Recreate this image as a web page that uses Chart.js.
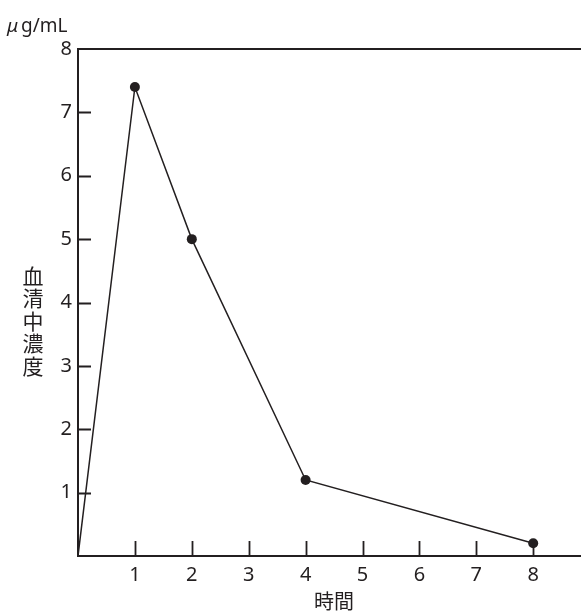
<!DOCTYPE html>
<html>
<head>
<meta charset="utf-8">
<script src="https://cdn.jsdelivr.net/npm/chart.js@4/dist/chart.umd.min.js"></script>
<style>
    html, body { margin: 0; padding: 0; background: #fff; }
    canvas { display: block; }
</style>
</head>
<body>
<canvas id="concChart" width="581" height="612"></canvas>
<script>
// Data
const hours = [0, 1, 2, 4, 8];
const concentration = [0, 7.4, 5.0, 1.2, 0.2];
const xTickValues = [1, 2, 3, 4, 5, 6, 7, 8];
const yTickValues = [1, 2, 3, 4, 5, 6, 7, 8];

const ink = '#231f20';
const latinFont = '"Noto Sans", "Open Sans", sans-serif';
const cjkFont = '"Noto Sans CJK JP", "Noto Sans", sans-serif';

// Inner tick marks and the free text labels
const decorations = {
    id: 'decorations',
    afterDraw(chart) {
        const { ctx, chartArea, scales } = chart;
        ctx.save();
        ctx.strokeStyle = ink;
        ctx.lineWidth = 1.8;
        ctx.beginPath();
        xTickValues.forEach(v => {
            const px = Math.round(scales.x.getPixelForValue(v)) + 0.5;
            ctx.moveTo(px, chartArea.bottom);
            ctx.lineTo(px, chartArea.bottom - 15);
        });
        yTickValues.slice(0, -1).forEach(v => {
            const py = Math.round(scales.y.getPixelForValue(v)) + 0.5;
            ctx.moveTo(chartArea.left, py);
            ctx.lineTo(chartArea.left + 13, py);
        });
        ctx.stroke();

        ctx.fillStyle = ink;

        // unit
        ctx.textAlign = 'left';
        ctx.textBaseline = 'alphabetic';
        ctx.font = 'italic 19px ' + latinFont;
        ctx.fillText('\u03bc', 7, 32);
        ctx.font = '19px ' + latinFont;
        ctx.fillText('g/mL', 21, 32);

        // x title
        ctx.textBaseline = 'middle';
        ctx.textAlign = 'center';
        ctx.font = '20px ' + cjkFont;
        ctx.fillText('時間', 334, 601);

        // vertical y title
        const yTitle = '血清中濃度';
        ctx.font = '21px ' + cjkFont;
        for (let i = 0; i < yTitle.length; i++) {
            ctx.fillText(yTitle[i], 33, 276 + i * 22.5);
        }
        ctx.restore();
    }
};

document.addEventListener('DOMContentLoaded', () => {
    const canvas = document.getElementById('concChart');
    new Chart(canvas, {
        type: 'line',
        data: {
            datasets: [{
                data: hours.map((h, i) => ({ x: h, y: concentration[i] })),
                borderColor: ink,
                borderWidth: 1.5,
                backgroundColor: ink,
                pointRadius: hours.map(h => h === 0 ? 0 : 5),
                pointBorderWidth: 0,
                tension: 0
            }]
        },
        options: {
            responsive: false,
            animation: false,
            layout: { autoPadding: false, padding: { top: 49, right: 0, left: 0, bottom: 0 } },
            plugins: {
                legend: { display: false },
                tooltip: { enabled: false }
            },
            scales: {
                x: {
                    type: 'linear',
                    min: 0,
                    max: 8.84,
                    afterBuildTicks: scale => {
                        scale.ticks = xTickValues.map(v => ({ value: v }));
                    },
                    afterFit: scale => { scale.height = 56; },
                    border: { display: true, color: ink, width: 2 },
                    grid: { display: false, drawTicks: false },
                    ticks: {
                        color: ink,
                        padding: 7,
                        font: { family: latinFont, size: 20 }
                    }
                },
                y: {
                    min: 0,
                    max: 8,
                    afterBuildTicks: scale => {
                        scale.ticks = yTickValues.map(v => ({ value: v }));
                    },
                    afterFit: scale => { scale.width = 78; },
                    border: { display: true, color: ink, width: 2 },
                    grid: {
                        drawTicks: false,
                        lineWidth: 2,
                        color: c => c.tick && c.tick.value === 8 ? ink : 'rgba(0,0,0,0)'
                    },
                    ticks: {
                        color: ink,
                        padding: 6,
                        font: { family: latinFont, size: 20 }
                    }
                }
            }
        },
        plugins: [decorations]
    });
});
</script>
</body>
</html>
